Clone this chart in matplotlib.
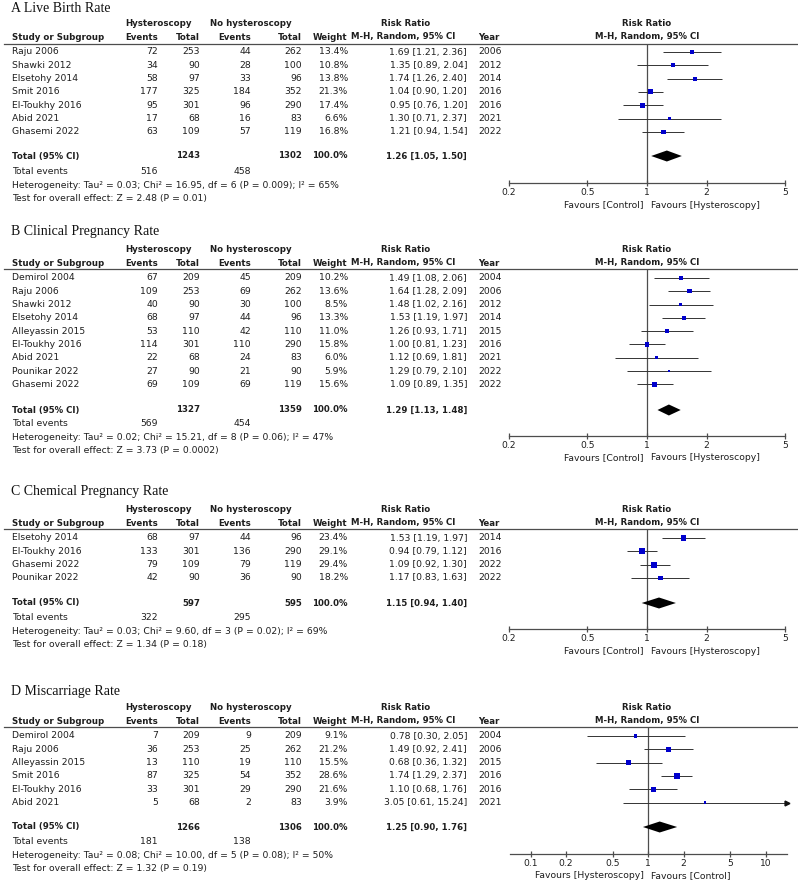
import numpy as np
import matplotlib
matplotlib.use("Agg")
import matplotlib.pyplot as plt
from matplotlib.ticker import NullLocator

## A: live birth rate
studies_a = ["Raju 2006", "Shawki 2012", "Elsetohy 2014", "Smit 2016",
             "El-Toukhy 2016", "Abid 2021", "Ghasemi 2022"]
ev_h_a = [72, 34, 58, 177, 95, 17, 63]
tot_h_a = [253, 90, 97, 325, 301, 68, 109]
ev_c_a = [44, 28, 33, 184, 96, 16, 57]
tot_c_a = [262, 100, 96, 352, 290, 83, 119]
wt_a = [13.4, 10.8, 13.8, 21.3, 17.4, 6.6, 16.8]
rr_a = [1.69, 1.35, 1.74, 1.04, 0.95, 1.30, 1.21]
lo_a = [1.21, 0.89, 1.26, 0.90, 0.76, 0.71, 0.94]
hi_a = [2.36, 2.04, 2.40, 1.20, 1.20, 2.37, 1.54]
yr_a = [2006, 2012, 2014, 2016, 2016, 2021, 2022]
total_a = [1243, 1302, 1.26, 1.05, 1.50]
events_a = [516, 458]
het_a = "Heterogeneity: Tau² = 0.03; Chi² = 16.95, df = 6 (P = 0.009); I² = 65%"
test_a = "Test for overall effect: Z = 2.48 (P = 0.01)"

## B: clinical pregnancy rate
studies_b = ["Demirol 2004", "Raju 2006", "Shawki 2012", "Elsetohy 2014", "Alleyassin 2015",
             "El-Toukhy 2016", "Abid 2021", "Pounikar 2022", "Ghasemi 2022"]
ev_h_b = [67, 109, 40, 68, 53, 114, 22, 27, 69]
tot_h_b = [209, 253, 90, 97, 110, 301, 68, 90, 109]
ev_c_b = [45, 69, 30, 44, 42, 110, 24, 21, 69]
tot_c_b = [209, 262, 100, 96, 110, 290, 83, 90, 119]
wt_b = [10.2, 13.6, 8.5, 13.3, 11.0, 15.8, 6.0, 5.9, 15.6]
rr_b = [1.49, 1.64, 1.48, 1.53, 1.26, 1.00, 1.12, 1.29, 1.09]
lo_b = [1.08, 1.28, 1.02, 1.19, 0.93, 0.81, 0.69, 0.79, 0.89]
hi_b = [2.06, 2.09, 2.16, 1.97, 1.71, 1.23, 1.81, 2.10, 1.35]
yr_b = [2004, 2006, 2012, 2014, 2015, 2016, 2021, 2022, 2022]
total_b = [1327, 1359, 1.29, 1.13, 1.48]
events_b = [569, 454]
het_b = "Heterogeneity: Tau² = 0.02; Chi² = 15.21, df = 8 (P = 0.06); I² = 47%"
test_b = "Test for overall effect: Z = 3.73 (P = 0.0002)"

## C: chemical pregnancy rate
studies_c = ["Elsetohy 2014", "El-Toukhy 2016", "Ghasemi 2022", "Pounikar 2022"]
ev_h_c = [68, 133, 79, 42]
tot_h_c = [97, 301, 109, 90]
ev_c_c = [44, 136, 79, 36]
tot_c_c = [96, 290, 119, 90]
wt_c = [23.4, 29.1, 29.4, 18.2]
rr_c = [1.53, 0.94, 1.09, 1.17]
lo_c = [1.19, 0.79, 0.92, 0.83]
hi_c = [1.97, 1.12, 1.30, 1.63]
yr_c = [2014, 2016, 2022, 2022]
total_c = [597, 595, 1.15, 0.94, 1.40]
events_c = [322, 295]
het_c = "Heterogeneity: Tau² = 0.03; Chi² = 9.60, df = 3 (P = 0.02); I² = 69%"
test_c = "Test for overall effect: Z = 1.34 (P = 0.18)"

## D: miscarriage rate
studies_d = ["Demirol 2004", "Raju 2006", "Alleyassin 2015", "Smit 2016",
             "El-Toukhy 2016", "Abid 2021"]
ev_h_d = [7, 36, 13, 87, 33, 5]
tot_h_d = [209, 253, 110, 325, 301, 68]
ev_c_d = [9, 25, 19, 54, 29, 2]
tot_c_d = [209, 262, 110, 352, 290, 83]
wt_d = [9.1, 21.2, 15.5, 28.6, 21.6, 3.9]
rr_d = [0.78, 1.49, 0.68, 1.74, 1.10, 3.05]
lo_d = [0.30, 0.92, 0.36, 1.29, 0.68, 0.61]
hi_d = [2.05, 2.41, 1.32, 2.37, 1.76, 15.24]
yr_d = [2004, 2006, 2015, 2016, 2016, 2021]
total_d = [1266, 1306, 1.25, 0.90, 1.76]
events_d = [181, 138]
het_d = "Heterogeneity: Tau² = 0.08; Chi² = 10.00, df = 5 (P = 0.08); I² = 50%"
test_d = "Test for overall effect: Z = 1.32 (P = 0.19)"

ticks_ac = [0.2, 0.5, 1, 2, 5]
ticklabels_ac = ["0.2", "0.5", "1", "2", "5"]
ticks_d = [0.1, 0.2, 0.5, 1, 2, 5, 10]
ticklabels_d = ["0.1", "0.2", "0.5", "1", "2", "5", "10"]

panels = [
    dict(title="A Live Birth Rate", studies=studies_a, ev_h=ev_h_a, tot_h=tot_h_a, ev_c=ev_c_a,
         tot_c=tot_c_a, wt=wt_a, rr=rr_a, lo=lo_a, hi=hi_a, yr=yr_a, total=total_a,
         events=events_a, het=het_a, test=test_a, ticks=ticks_ac, ticklabels=ticklabels_ac,
         xlim=(0.2, 5), fav=("Favours [Control]", "Favours [Hysteroscopy]")),
    dict(title="B Clinical Pregnancy Rate", studies=studies_b, ev_h=ev_h_b, tot_h=tot_h_b, ev_c=ev_c_b,
         tot_c=tot_c_b, wt=wt_b, rr=rr_b, lo=lo_b, hi=hi_b, yr=yr_b, total=total_b,
         events=events_b, het=het_b, test=test_b, ticks=ticks_ac, ticklabels=ticklabels_ac,
         xlim=(0.2, 5), fav=("Favours [Control]", "Favours [Hysteroscopy]")),
    dict(title="C Chemical Pregnancy Rate", studies=studies_c, ev_h=ev_h_c, tot_h=tot_h_c, ev_c=ev_c_c,
         tot_c=tot_c_c, wt=wt_c, rr=rr_c, lo=lo_c, hi=hi_c, yr=yr_c, total=total_c,
         events=events_c, het=het_c, test=test_c, ticks=ticks_ac, ticklabels=ticklabels_ac,
         xlim=(0.2, 5), fav=("Favours [Control]", "Favours [Hysteroscopy]")),
    dict(title="D Miscarriage Rate", studies=studies_d, ev_h=ev_h_d, tot_h=tot_h_d, ev_c=ev_c_d,
         tot_c=tot_c_d, wt=wt_d, rr=rr_d, lo=lo_d, hi=hi_d, yr=yr_d, total=total_d,
         events=events_d, het=het_d, test=test_d, ticks=ticks_d, ticklabels=ticklabels_d,
         xlim=(1 / 15, 15), fav=("Favours [Hysteroscopy]", "Favours [Control]")),
]

# pixel layout of each panel (y positions from the top)
layouts = [
    dict(title=8, h1=24, h2=37, line=44, row0=52, total=156, events=172, het=186, test=199, axis=183, fx=(508.7, 785.3)),
    dict(title=232, h1=250, h2=263, line=269, row0=278, total=410, events=423, het=437, test=451, axis=436, fx=(508.7, 785.3)),
    dict(title=491, h1=510, h2=523, line=529, row0=538, total=603, events=618, het=632, test=645, axis=629, fx=(508.7, 785.3)),
    dict(title=692, h1=708, h2=721, line=727, row0=736, total=827, events=842, het=856, test=869, axis=854, fx=(510.1, 786.5)),
]
ROW = 13.3

W, H = 798, 882
fig = plt.figure(figsize=(W / 100, H / 100), dpi=100)
bg = fig.add_axes([0, 0, 1, 1])
bg.set_xlim(0, W)
bg.set_ylim(H, 0)
bg.axis("off")

TXT = "#1e1e1e"
FS = 6.7
FSB = 6.25
SANS = "DejaVu Sans"
BLUE = "#0000cc"
GREY = "#4d4d4d"


def txt(x, y, s, ha="left", bold=False):
    bg.text(x, y, s, ha=ha, va="center", fontsize=FSB if bold else FS, color=TXT, family=SANS,
            fontweight="bold" if bold else "normal")


def draw_panel(p, lay):
    bg.text(11, lay["title"], p["title"], ha="left", va="center", fontsize=10,
            family="Liberation Serif", color="#111111")
    # header
    txt(158, lay["h1"], "Hysteroscopy", ha="center", bold=True)
    txt(251, lay["h1"], "No hysteroscopy", ha="center", bold=True)
    txt(406, lay["h1"], "Risk Ratio", ha="center", bold=True)
    txt(647, lay["h1"], "Risk Ratio", ha="center", bold=True)
    txt(12, lay["h2"], "Study or Subgroup", bold=True)
    txt(158, lay["h2"], "Events", ha="right", bold=True)
    txt(200, lay["h2"], "Total", ha="right", bold=True)
    txt(251, lay["h2"], "Events", ha="right", bold=True)
    txt(302, lay["h2"], "Total", ha="right", bold=True)
    txt(347, lay["h2"], "Weight", ha="right", bold=True)
    txt(403, lay["h2"], "M-H, Random, 95% CI", ha="center", bold=True)
    txt(478, lay["h2"], "Year", bold=True)
    txt(647, lay["h2"], "M-H, Random, 95% CI", ha="center", bold=True)
    bg.plot([4, W], [lay["line"], lay["line"]], color=GREY, lw=0.9)

    n = len(p["studies"])
    ys = lay["row0"] + ROW * np.arange(n)
    for i in range(n):
        y = ys[i]
        txt(12, y, p["studies"][i])
        txt(158, y, str(p["ev_h"][i]), ha="right")
        txt(200, y, str(p["tot_h"][i]), ha="right")
        txt(251, y, str(p["ev_c"][i]), ha="right")
        txt(302, y, str(p["tot_c"][i]), ha="right")
        txt(348, y, "%.1f%%" % p["wt"][i], ha="right")
        txt(467, y, "%.2f [%.2f, %.2f]" % (p["rr"][i], p["lo"][i], p["hi"][i]), ha="right")
        txt(478, y, str(p["yr"][i]))

    tot = p["total"]
    txt(12, lay["total"], "Total (95% CI)", bold=True)
    txt(200, lay["total"], str(tot[0]), ha="right", bold=True)
    txt(302, lay["total"], str(tot[1]), ha="right", bold=True)
    txt(348, lay["total"], "100.0%", ha="right", bold=True)
    txt(467, lay["total"], "%.2f [%.2f, %.2f]" % (tot[2], tot[3], tot[4]), ha="right", bold=True)
    txt(12, lay["events"], "Total events")
    txt(158, lay["events"], str(p["events"][0]), ha="right")
    txt(251, lay["events"], str(p["events"][1]), ha="right")
    txt(12, lay["het"], p["het"])
    txt(12, lay["test"], p["test"])

    # forest
    fx0, fx1 = lay["fx"]
    ax = fig.add_axes([fx0 / W, 1 - lay["axis"] / H, (fx1 - fx0) / W, (lay["axis"] - lay["line"]) / H])
    ax.set_xscale("log")
    xmin, xmax = p["xlim"]
    ax.set_xlim(xmin, xmax)
    ax.set_ylim(lay["axis"], lay["line"])
    ax.patch.set_alpha(0)
    for s in ["top", "left", "right"]:
        ax.spines[s].set_visible(False)
    ax.spines["bottom"].set_color(GREY)
    ax.spines["bottom"].set_linewidth(0.9)
    ax.set_yticks([])
    ax.set_xticks(p["ticks"])
    ax.set_xticklabels(p["ticklabels"])
    ax.xaxis.set_minor_locator(NullLocator())
    ax.tick_params(axis="x", direction="inout", length=5, width=0.9, color=GREY,
                   labelsize=6.6, pad=1, labelcolor=TXT)
    ax.axvline(1, color=GREY, lw=0.9)

    lo = np.array(p["lo"])
    hi = np.array(p["hi"])
    ax.hlines(ys, np.maximum(lo, xmin), np.minimum(hi, xmax), color="#333333", lw=0.7, zorder=2)
    ax.scatter(p["rr"], ys, s=0.65 * np.array(p["wt"]), marker="s", color=BLUE,
               linewidths=0, zorder=3)
    for i in range(n):
        if hi[i] > xmax:
            ax.plot([xmax], [ys[i]], marker=">", ms=3.5, color="#111111", clip_on=False, zorder=3)
    yt = lay["total"]
    ax.fill([tot[3], tot[2], tot[4], tot[2]], [yt, yt - 5.5, yt, yt + 5.5],
            color="black", lw=0, zorder=3, clip_on=False)

    txt(644, lay["axis"] + 22, p["fav"][0], ha="right")
    txt(651, lay["axis"] + 22, p["fav"][1], ha="left")


for p, lay in zip(panels, layouts):
    draw_panel(p, lay)

fig.savefig("out.png", dpi=100)
